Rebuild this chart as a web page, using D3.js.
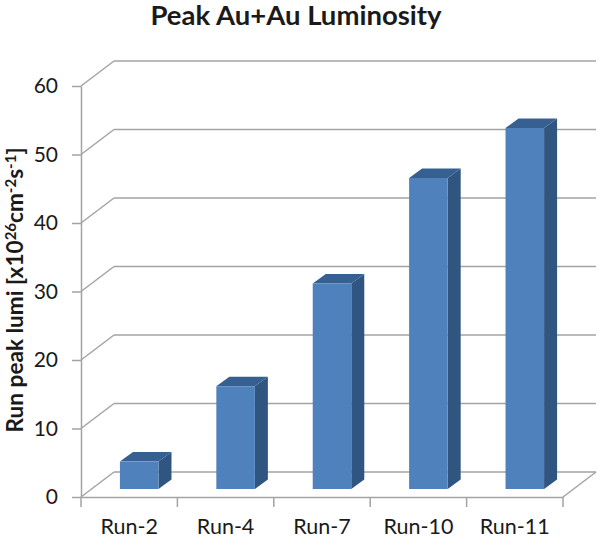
<!DOCTYPE html>
<html>
<head>
<meta charset="utf-8">
<script src="https://cdn.jsdelivr.net/npm/d3@7"></script>
<style>
  html, body { margin: 0; padding: 0; background: #fff; }
  svg { display: block; }
  text { font-family: Lato, "Open Sans", sans-serif; fill: #1a1a1a; }
</style>
</head>
<body>
<div id="chart"></div>
<script>
var categories = ["Run-2", "Run-4", "Run-7", "Run-10", "Run-11"];
var lumi = [4, 15, 30, 45.4, 52.7];
var yTicks = [0, 10, 20, 30, 40, 50, 60];

var width = 600, height = 541;
var gridColor = "#a3a3a3";

// the 3d box: front plane plus an offset for the back wall
var depth = {x: 33, y: -25};
var barDepth = {x: 13, y: -9.5};
var barShift = {x: 10, y: -8};   // bars stand in the middle of the floor

var svg = d3.select("#chart")
  .append("svg")
  .attr("width", width)
  .attr("height", height);

var xScale = d3.scaleBand()
  .domain(categories)
  .range([81, 563])
  .paddingInner(0.6)
  .paddingOuter(0.3);

var xBand = d3.scaleBand()
  .domain(categories)
  .range([81, 563]);

var yScale = d3.scaleLinear()
  .domain([0, 60])
  .range([497, 86]);

// back wall lines and the diagonals on the side wall
var walls = svg.append("g")
  .attr("fill", "none")
  .attr("stroke", gridColor)
  .attr("stroke-width", 1.5);

walls.selectAll("line.back")
  .data(yTicks)
  .enter()
  .append("line")
    .attr("class", "back")
    .attr("x1", 81 + depth.x)
    .attr("x2", 563 + depth.x)
    .attr("y1", function (d) { return yScale(d) + depth.y; })
    .attr("y2", function (d) { return yScale(d) + depth.y; });

walls.selectAll("line.side")
  .data(yTicks)
  .enter()
  .append("line")
    .attr("class", "side")
    .attr("x1", 81)
    .attr("x2", 81 + depth.x)
    .attr("y1", function (d) { return yScale(d); })
    .attr("y2", function (d) { return yScale(d) + depth.y; });

// right edge of the floor
walls.append("line")
  .attr("x1", 563)
  .attr("x2", 563 + depth.x)
  .attr("y1", yScale(0))
  .attr("y2", yScale(0) + depth.y);

// axes
var yAxis = svg.append("g")
  .attr("transform", "translate(81,0)")
  .call(d3.axisLeft(yScale).tickValues(yTicks).tickSize(9).tickPadding(14).tickSizeOuter(0));

var xAxis = svg.append("g")
  .attr("transform", "translate(0," + yScale(0) + ")")
  .call(d3.axisBottom(xBand).tickSize(0).tickPadding(22).tickSizeOuter(0));

// category ticks sit between the bars
xAxis.selectAll("line.sep")
  .data(d3.range(categories.length + 1))
  .enter()
  .append("line")
    .attr("class", "sep")
    .attr("x1", function (d) { return 81 + d * xBand.step(); })
    .attr("x2", function (d) { return 81 + d * xBand.step(); })
    .attr("y1", 0)
    .attr("y2", 10);

[yAxis, xAxis].forEach(function (a) {
  a.selectAll("path, line").attr("stroke", gridColor).attr("stroke-width", 1.5);
  a.selectAll("text").attr("fill", "#1a1a1a");
});
yAxis.selectAll("text").style("font-size", "21px");
xAxis.selectAll("text").style("font-size", "21.5px");

// bars: side, top, front
var bars = svg.append("g")
  .selectAll("g")
  .data(lumi)
  .enter()
  .append("g")
  .attr("transform", function (d, i) {
    return "translate(" + (xScale(categories[i]) + barShift.x) + "," + barShift.y + ")";
  });

var bw = xScale.bandwidth();

bars.append("path")
  .attr("fill", "#2f5580")
  .attr("d", function (d) {
    return d3.line()([
      [bw, yScale(d)],
      [bw + barDepth.x, yScale(d) + barDepth.y],
      [bw + barDepth.x, yScale(0) + barDepth.y],
      [bw, yScale(0)]
    ]) + "Z";
  });

bars.append("path")
  .attr("fill", "#376092")
  .attr("d", function (d) {
    return d3.line()([
      [0, yScale(d)],
      [barDepth.x, yScale(d) + barDepth.y],
      [bw + barDepth.x, yScale(d) + barDepth.y],
      [bw, yScale(d)]
    ]) + "Z";
  });

bars.append("rect")
  .attr("fill", "#4f81bd")
  .attr("x", 0)
  .attr("width", bw)
  .attr("y", function (d) { return yScale(d); })
  .attr("height", function (d) { return yScale(0) - yScale(d); });

// title
svg.append("text")
  .attr("x", 296)
  .attr("y", 25)
  .attr("text-anchor", "middle")
  .style("font-size", "27.5px")
  .style("font-weight", "bold")
  .text("Peak Au+Au Luminosity");

// y axis title with superscripts
var yTitle = svg.append("text")
  .attr("transform", "translate(23,290) rotate(-90)")
  .attr("text-anchor", "middle")
  .style("font-size", "22.6px")
  .style("font-weight", "bold");

yTitle.append("tspan").text("Run peak lumi [x10");
yTitle.append("tspan").attr("dy", -7).style("font-size", "15px").text("26");
yTitle.append("tspan").attr("dy", 7).text("cm");
yTitle.append("tspan").attr("dy", -7).style("font-size", "15px").text("-2");
yTitle.append("tspan").attr("dy", 7).text("s");
yTitle.append("tspan").attr("dy", -7).style("font-size", "15px").text("-1");
yTitle.append("tspan").attr("dy", 7).text("]");
</script>
</body>
</html>
